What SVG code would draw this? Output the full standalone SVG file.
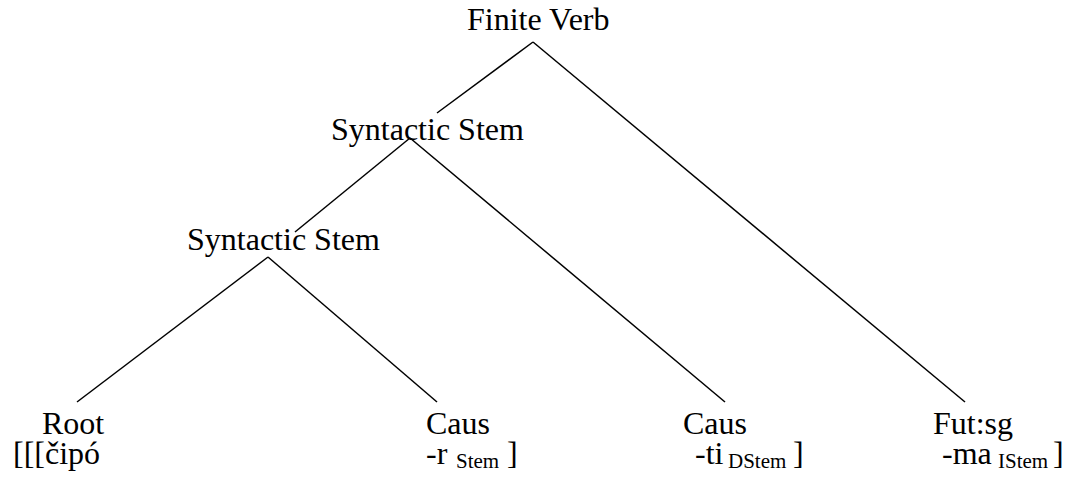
<svg xmlns="http://www.w3.org/2000/svg" width="1075" height="480" viewBox="0 0 1075 480">
<style>
text{font-family:"Liberation Serif","Times New Roman",serif;font-size:32px;fill:#000}
.sub{font-size:21px}
.edge{stroke:#000;stroke-width:1.5;fill:none}
</style>
<rect width="1075" height="480" fill="#fff"/>
<g id="connectors">
<line class="edge" x1="533" y1="42" x2="437" y2="113"/>
<line class="edge" x1="533" y1="42" x2="965" y2="402"/>
<line class="edge" x1="410" y1="138" x2="295" y2="232"/>
<line class="edge" x1="410" y1="138" x2="725" y2="402"/>
<line class="edge" x1="268" y1="257" x2="77" y2="402"/>
<line class="edge" x1="268" y1="257" x2="437" y2="402"/>
</g>
<g id="finite-verb"><text x="467" y="30">Finite Verb</text></g>
<g id="syntactic-stem-1"><text x="331" y="140">Syntactic Stem</text></g>
<g id="syntactic-stem-2"><text x="187" y="250">Syntactic Stem</text></g>
<g id="root">
<text x="42" y="434">Root</text>
<text x="13" y="464">[[[čipó</text>
</g>
<g id="caus-1">
<text x="426" y="434">Caus</text>
<text x="426" y="464">-r<tspan class="sub" x="456" dy="4">Stem</tspan><tspan x="507" dy="-4">]</tspan></text>
</g>
<g id="caus-2">
<text x="683" y="434">Caus</text>
<text x="695" y="464">-ti<tspan class="sub" x="728" dy="4">DStem</tspan><tspan x="793" dy="-4">]</tspan></text>
</g>
<g id="fut-sg">
<text x="933" y="434">Fut:sg</text>
<text x="942" y="464">-ma<tspan class="sub" x="998" dy="4">IStem</tspan><tspan x="1053" dy="-4">]</tspan></text>
</g>
</svg>
